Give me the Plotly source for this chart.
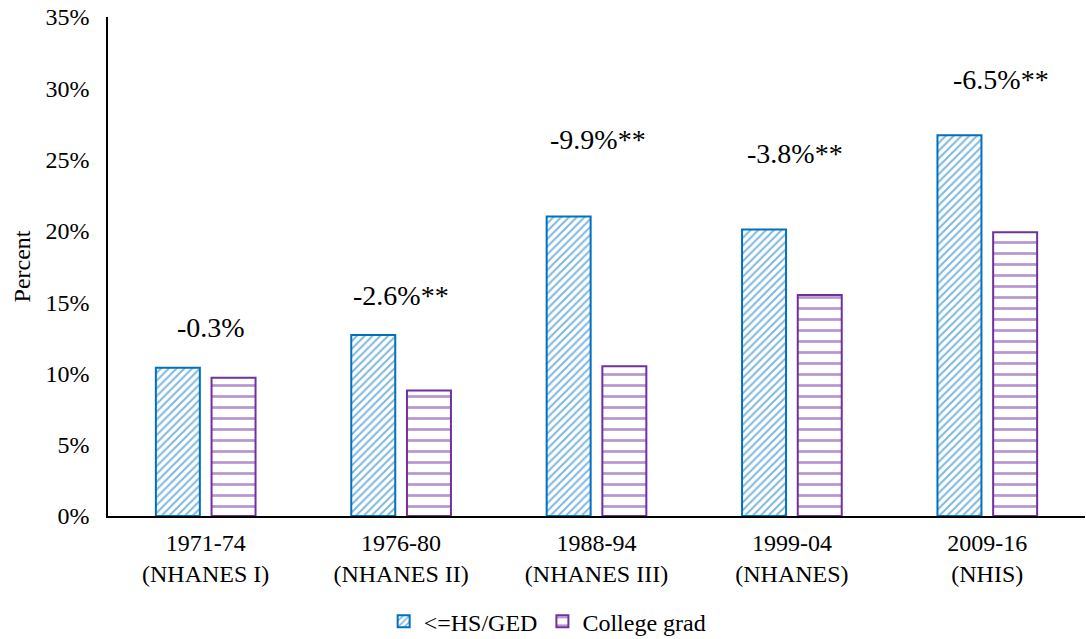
import plotly.graph_objects as go

# Survey periods (two-line category labels)
periods = ["1971-74<br>(NHANES I)", "1976-80<br>(NHANES II)", "1988-94<br>(NHANES III)",
           "1999-04<br>(NHANES)", "2009-16<br>(NHIS)"]

# Percent by education group
hs_ged = [10.4, 12.7, 21.0, 20.1, 26.7]
college = [9.7, 8.8, 10.5, 15.5, 19.9]

# Gap labels above each pair, with their vertical placement (percent units)
gap_labels = ["-0.3%", "-2.6%**", "-9.9%**", "-3.8%**", "-6.5%**"]
gap_label_y = [13.2, 15.5, 26.4, 25.4, 30.6]
gap_label_dx = [5, 0, 1, 3, 14]

BLUE = "#0070C0"
PURPLE = "#7030A0"
FONT = "Liberation Serif, Times New Roman, serif"

fig = go.Figure()
fig.add_trace(go.Bar(
    x=periods, y=hs_ged, name="<=HS/GED",
    marker=dict(color="white", line=dict(color=BLUE, width=2),
                pattern=dict(shape="/", fgcolor=BLUE, bgcolor="white",
                             size=5.5, solidity=0.35, fillmode="overlay")),
))
fig.add_trace(go.Bar(
    x=periods, y=college, name="College grad",
    marker=dict(color="white", line=dict(color=PURPLE, width=2),
                pattern=dict(shape="-", fgcolor=PURPLE, bgcolor="white",
                             size=11, solidity=0.25, fillmode="overlay")),
))

for xc, lab, yv, dx in zip(periods, gap_labels, gap_label_y, gap_label_dx):
    fig.add_annotation(x=xc, y=yv, text=lab, showarrow=False, xshift=dx,
                       font=dict(family=FONT, size=28, color="black"))

fig.update_layout(
    width=1086, height=639,
    margin=dict(l=108, r=1, t=17, b=123),
    plot_bgcolor="white", paper_bgcolor="white",
    barmode="group", bargap=0.43, bargroupgap=0.21,
    font=dict(family=FONT, size=24, color="black"),
    showlegend=True,
    legend=dict(orientation="h", x=0.45, xanchor="center",
                yref="container", y=0.027, yanchor="middle",
                font=dict(family=FONT, size=24), itemwidth=30, tracegroupgap=0),
    xaxis=dict(showline=True, linecolor="black", linewidth=1.5, ticks="",
               showgrid=False, tickfont=dict(family=FONT, size=24),
               ticklabelstandoff=4),
    yaxis=dict(range=[0, 35], dtick=5, ticksuffix="%", showline=True,
               linecolor="black", linewidth=1.5, showgrid=False, ticks="",
               tickfont=dict(family=FONT, size=24), zeroline=False,
               ticklabelstandoff=12,
               title=dict(text="Percent", font=dict(family=FONT, size=24), standoff=8)),
)

fig.write_html("out.html")
